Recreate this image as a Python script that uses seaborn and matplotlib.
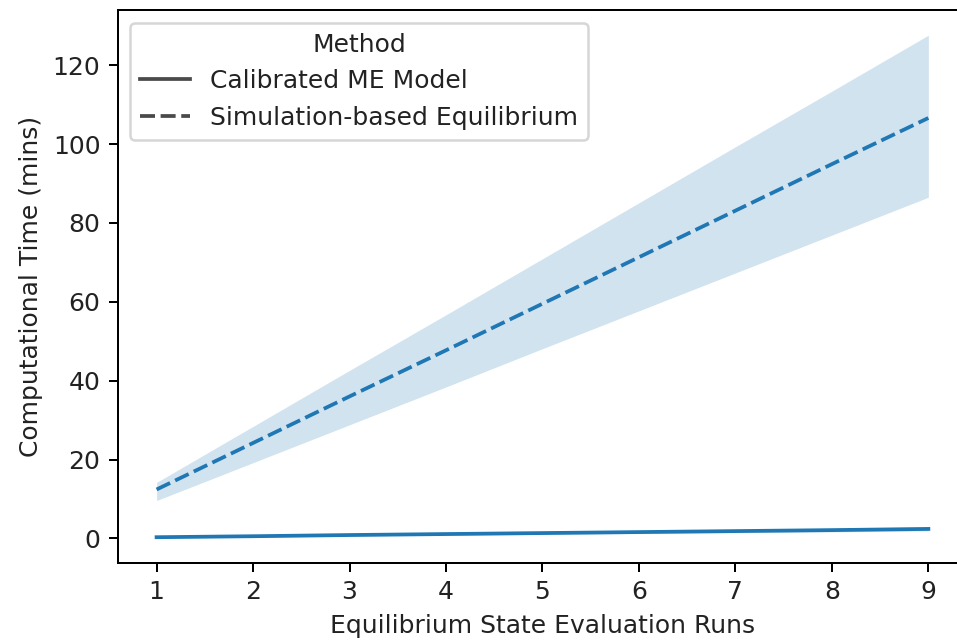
import numpy as np
import pandas as pd
import matplotlib
matplotlib.use("Agg")
import matplotlib.pyplot as plt
import seaborn as sns

runs = [1, 2, 3, 4, 5, 6, 7, 8, 9]
methods = ["Calibrated ME Model", "Simulation-based Equilibrium"]

calib_mean = [0.3, 0.55, 0.85, 1.1, 1.35, 1.6, 1.85, 2.1, 2.4]
calib_low = [0.2, 0.4, 0.65, 0.85, 1.05, 1.25, 1.45, 1.65, 1.9]
calib_high = [0.4, 0.7, 1.05, 1.35, 1.65, 1.95, 2.25, 2.55, 2.9]

sim_mean = [12.4, 24.2, 36.0, 47.7, 59.5, 71.3, 83.1, 94.9, 106.6]
sim_low = [9.6, 19.2, 28.8, 38.4, 48.1, 57.7, 67.3, 76.9, 86.5]
sim_high = [14.2, 28.4, 42.6, 56.7, 70.9, 85.1, 99.3, 113.4, 127.6]

df = pd.DataFrame({
    "Equilibrium State Evaluation Runs": runs + runs,
    "Computational Time (mins)": calib_mean + sim_mean,
    "Method": [methods[0]] * len(runs) + [methods[1]] * len(runs),
})

plt.rcParams["text.color"] = "#222222"
plt.rcParams["axes.labelcolor"] = "#222222"
plt.rcParams["xtick.labelcolor"] = "#222222"
plt.rcParams["ytick.labelcolor"] = "#222222"

DPI = 180
fig = plt.figure(figsize=(957 / DPI, 644 / DPI), dpi=DPI)
ax = fig.add_axes([0.1233, 0.1262, 0.8871, 0.8582])

color = "#1f77b4"
sns.lineplot(data=df, x="Equilibrium State Evaluation Runs",
             y="Computational Time (mins)", style="Method",
             style_order=methods, color=color, errorbar=None, ax=ax)
ax.fill_between(runs, calib_low, calib_high, color=color, alpha=0.2, linewidth=0)
ax.fill_between(runs, sim_low, sim_high, color=color, alpha=0.2, linewidth=0)

ax.set_yticks([0, 20, 40, 60, 80, 100, 120])
ax.set_xticks(runs)
leg = ax.legend(title="Method", loc="upper left")
for h in leg.legend_handles:
    h.set_color("#4a4a4a")

fig.savefig("out.png", dpi=DPI)
